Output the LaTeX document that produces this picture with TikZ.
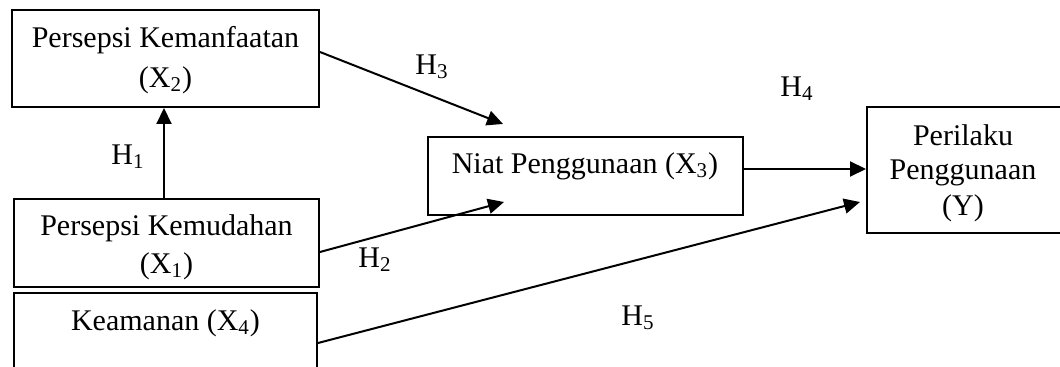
\documentclass[tikz,border=0pt]{standalone}
\usepackage{fontspec}
\setmainfont{Liberation Serif}
\usetikzlibrary{arrows.meta}
\begin{document}
\begin{tikzpicture}[x=0.5pt,y=-0.5pt,
  every node/.style={font=\fontsize{15}{18.5}\selectfont, inner sep=0pt},
  box/.style={draw, line width=1pt, rectangle, align=center},
  lbl/.style={font=\fontsize{15}{16}\selectfont},
  arr/.style={line width=1pt, -{Triangle[length=8pt,width=7.5pt]}}]
\useasboundingbox (0,0) rectangle (1060,367);
\clip (0,0) rectangle (1060,367);
% boxes
\node[box, minimum width=153.5pt, minimum height=48.5pt] (X2) at (165.5,58.5) {};
\node at (165.5,40) {Persepsi Kemanfaatan};
\node at (165.5,80) {(X\textsubscript{2})};
\node[box, minimum width=152.5pt, minimum height=44pt] (X1) at (166.5,243) {};
\node at (166.5,228) {Persepsi Kemudahan};
\node at (166.5,266) {(X\textsubscript{1})};
\node[box, minimum width=151.5pt, minimum height=60pt] (X4) at (165.5,353) {};
\node at (165.5,323) {Keamanan (X\textsubscript{4})};
\node[box, minimum width=157.5pt, minimum height=39pt] (X3) at (585.5,176) {};
\node at (585,166) {Niat Penggunaan (X\textsubscript{3})};
\node[box, minimum width=130pt, minimum height=63pt] (Y) at (997,170) {};
\node at (963,135) {Perilaku};
\node at (963,173) {Penggunaan};
\node at (963,208) {(Y)};
% connector end points
\coordinate (h3e) at (503,124);
\coordinate (h2e) at (504,202);
\coordinate (h5e) at (860,202);
% connectors
\draw[arr] (X1.north -| 164,0) -- (X2.south -| 164,0);
\draw[arr] (X2.east |- 0,52) -- (h3e);
\draw[arr] (X1.east |- 0,252) -- (h2e);
\draw[arr] (X3.east |- 0,169) -- (Y.west |- 0,169);
\draw[arr] (X4.east |- 0,343) -- (h5e);
% labels
\node[lbl] at (128,157) {H\textsubscript{1}};
\node[lbl] at (375,260) {H\textsubscript{2}};
\node[lbl] at (432,67) {H\textsubscript{3}};
\node[lbl] at (797,89) {H\textsubscript{4}};
\node[lbl] at (638,318) {H\textsubscript{5}};
\end{tikzpicture}
\end{document}
